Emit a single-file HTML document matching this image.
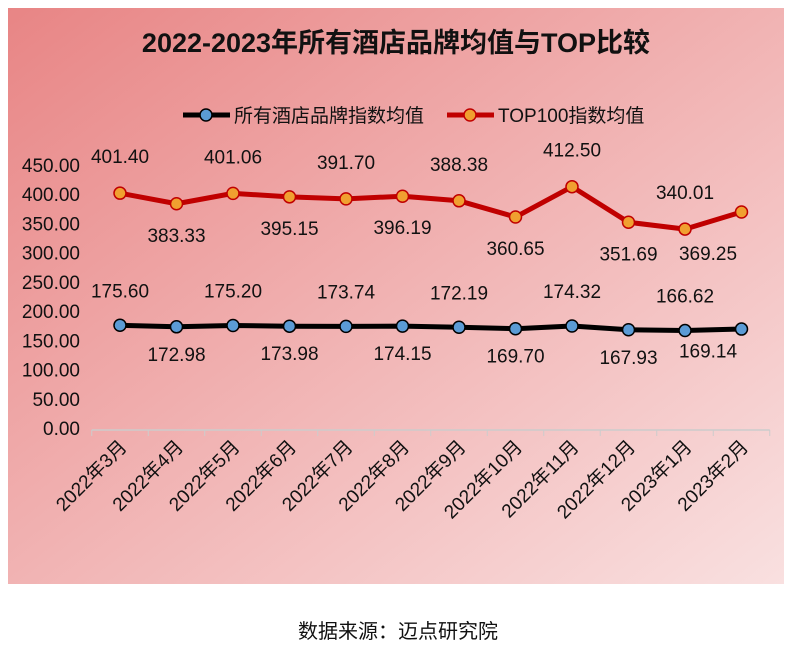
<!DOCTYPE html>
<html><head><meta charset="utf-8"><style>
html,body{margin:0;padding:0;background:#fff;}
body{width:800px;height:646px;overflow:hidden;font-family:"Liberation Sans","Noto Sans CJK SC",sans-serif;}
</style></head><body>
<svg id="chart" width="800" height="646" xmlns="http://www.w3.org/2000/svg" font-family="Liberation Sans, Noto Sans CJK SC, sans-serif">
<defs>
<linearGradient id="bg" x1="0" y1="0" x2="1" y2="1">
<stop offset="0" stop-color="#e88585"/><stop offset="0.5" stop-color="#f1b3b3"/><stop offset="1" stop-color="#f9e0e0"/>
</linearGradient>
</defs>
<rect x="8" y="8" width="776" height="576" fill="url(#bg)"/>
<text x="396" y="52" text-anchor="middle" font-size="27" font-weight="bold" fill="#111">2022-2023年所有酒店品牌均值与TOP比较</text>
<g>
<line x1="183" y1="115" x2="230" y2="115" stroke="#000" stroke-width="5"/>
<circle cx="206" cy="115" r="6" fill="#5b9bd5" stroke="#000" stroke-width="1.5"/>
<text x="234" y="122" font-size="19" fill="#111">所有酒店品牌指数均值</text>
<line x1="447" y1="115" x2="494" y2="115" stroke="#c00000" stroke-width="5"/>
<circle cx="470" cy="115" r="6" fill="#f0a030" stroke="#c00000" stroke-width="1.5"/>
<text x="498" y="122" font-size="19" fill="#111">TOP100指数均值</text>
</g>
<g id="axes"></g>
<g id="marks"></g>
<text x="398" y="638" text-anchor="middle" font-size="20" fill="#111">数据来源：迈点研究院</text>
</svg>
<script>
const categories=["2022年3月","2022年4月","2022年5月","2022年6月","2022年7月","2022年8月","2022年9月","2022年10月","2022年11月","2022年12月","2023年1月","2023年2月"];
const allBrands=[175.60,172.98,175.20,173.98,173.74,174.15,172.19,169.70,174.32,167.93,166.62,169.14];
const top100=[401.40,383.33,401.06,395.15,391.70,396.19,388.38,360.65,412.50,351.69,340.01,369.25];
const yTicks=[0,50,100,150,200,250,300,350,400,450];
const NS="http://www.w3.org/2000/svg";
const y0=428,ys=0.585,x0=120,dx=56.5;
const X=i=>x0+i*dx, Y=v=>y0-v*ys;
function mk(t,a,p){const e=document.createElementNS(NS,t);for(const k in a)e.setAttribute(k,a[k]);p.appendChild(e);return e;}
const ax=document.getElementById('axes'),mg=document.getElementById('marks');
yTicks.forEach(v=>{const t=mk('text',{x:80,y:Y(v)+7,'text-anchor':'end','font-size':19,fill:'#111'},ax);t.textContent=v.toFixed(2);

});
const axl=mk('line',{x1:X(0)-dx/2,y1:430,x2:X(11)+dx/2,y2:430,stroke:'#ccc','stroke-width':1.5},ax);


categories.forEach((c,i)=>{const x=X(i);
mk('line',{x1:x-dx/2,y1:430,x2:x-dx/2,y2:436,stroke:'#ccc'},ax);
if(i===11) mk('line',{x1:x+dx/2,y1:430,x2:x+dx/2,y2:436,stroke:'#ccc'},ax);
const t=mk('text',{x:x+8,y:448,'text-anchor':'end','font-size':19,fill:'#111',transform:`rotate(-45 ${x+8} 448)`},ax);t.textContent=c;

});
function series(vals,stroke,fill,name,offA,offB){
const p=mk('polyline',{points:vals.map((v,i)=>X(i)+','+Y(v)).join(' '),fill:'none',stroke:stroke,'stroke-width':5,'stroke-linejoin':'round'},mg);


vals.forEach((v,i)=>{const c=mk('circle',{cx:X(i),cy:Y(v),r:6,fill:fill,stroke:stroke,'stroke-width':1.5},mg);


const above=(i%2===0);
const lx=(i===11)?X(10)+23:X(i);
const ly=(i===11)?Y(vals[10])+(offB-7):Y(v)+(above?offA:offB);
const t=mk('text',{x:lx,y:ly,'text-anchor':'middle','font-size':19,fill:'#111'},mg);t.textContent=v.toFixed(2);

});
}
series(top100,'#c00000','#f0a030','top100',-30,38);
series(allBrands,'#000','#5b9bd5','all-brands',-28,34);
</script>
</body></html>
